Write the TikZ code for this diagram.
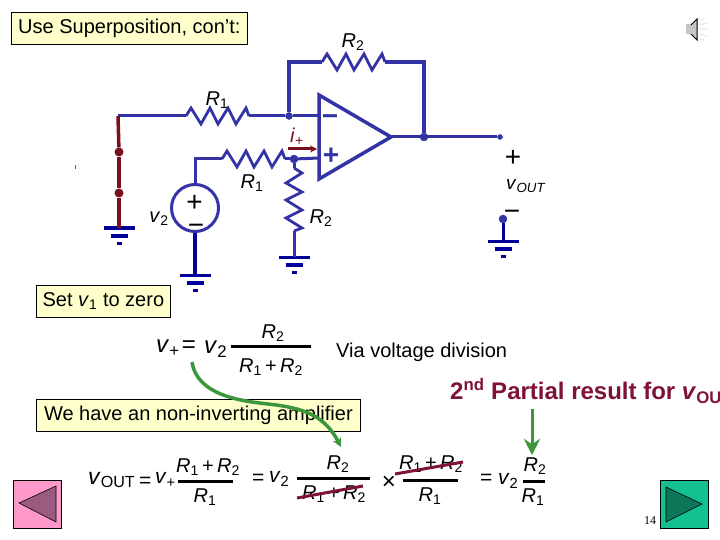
\documentclass[tikz,border=0pt]{standalone}
\usepackage{fontspec}
\setmainfont{Liberation Sans}
\newfontfamily\pagefont{Liberation Serif}
\usetikzlibrary{arrows.meta}
\definecolor{wirec}{HTML}{3333A5}
\definecolor{gndc}{HTML}{000099}
\definecolor{shortc}{HTML}{7A0F1E}
\definecolor{redt}{HTML}{7F1336}
\definecolor{boxc}{HTML}{FFFFCC}
\definecolor{arrowc}{HTML}{3C963C}
\definecolor{pinkb}{RGB}{255,153,204}
\definecolor{pinkt}{RGB}{153,92,128}
\definecolor{greenb}{RGB}{20,192,144}
\definecolor{greent}{RGB}{12,118,88}
\newcommand{\fs}[1]{\fontsize{#1}{#1}\selectfont}
\newcommand{\Rn}[1]{\textit{R}\textsubscript{#1}}
\newcommand{\vn}[1]{\textit{v}\textsubscript{#1}}
\newcommand{\Rsum}{\Rn{1}\,+\,\Rn{2}}
\tikzset{
  wire/.style={draw=wirec,line width=3pt,line join=miter},
  thickwire/.style={draw=wirec,line width=4.5pt},
  dot/.style={circle,fill=wirec,draw=wirec,inner sep=0pt,minimum size=#1},
  shortw/.style={draw=shortc,line width=3.5pt},
  sdot/.style={circle,fill=shortc,inner sep=0pt,minimum size=9pt},
  box/.style={draw=black,fill=boxc,line width=0.8pt,minimum height=32pt,inner sep=0pt,font=\fs{20},anchor=north west},
  lbl/.style={font=\fs{20},inner sep=0pt},
  mth/.style={font=\fs{21},inner sep=0pt},
  fbar/.style={draw=black,line width=3pt},
  strike/.style={draw=redt,line width=3pt},
  garrow/.style={draw=arrowc,line width=3pt,-{Stealth[length=16pt,width=16pt]}},
  resh/.pic={
    \coordinate (-in) at (0,0);
    \coordinate (-out) at (63,0);
    \draw[wire,line width=2.8pt] (0,0) -- (5,-8) -- (15,8) -- (24,-8) -- (32,8) -- (42,-8) -- (50,8) -- (60,-8) -- (63,0);
  },
  gnd/.pic={
    \coordinate (-top) at (0,0);
    \fill[gndc] (-15.5,-1.5) rectangle (15.5,2);
    \fill[gndc] (-8.5,6) rectangle (8.5,9.5);
    \fill[gndc] (-2.5,14) rectangle (2.5,17);
  },
}
\begin{document}
\begin{tikzpicture}[x=1pt,y=-1pt]
\useasboundingbox (0,0) rectangle (720,540);
\fill[white] (0,0) rectangle (720,540);

% boxes
\node[box,minimum width=236pt] (title) at (11,12) {\raisebox{-2pt}{Use Superposition, con’t:}};
\node[box,minimum width=134pt] (setv) at (36,285) {\raisebox{-2pt}{Set \textit{v}\textsubscript{1} to zero}};
\node[box,minimum width=324pt] (nonInv) at (36,399) {\raisebox{-2pt}{We have an non-inverting amplifier}};

% op amp
\coordinate (minus) at (319,116);
\coordinate (plus) at (319,158);
\coordinate (amp out) at (391,137);
\draw[wire,line width=3.5pt,line join=miter] (319,95) -- (amp out) -- (319,179) -- cycle;
\node[font=\bfseries\fs{28},text=wirec,inner sep=0pt] (mnode) at (330,120) {−};
\node[font=\bfseries\fs{28},text=wirec,inner sep=0pt] (pnode) at (331,156) {+};

% junctions
\node[dot=7pt] (jm) at (289,116) {};
\node[dot=8pt] (jp) at (294,159) {};
\node[dot=8pt] (jo) at (424,137) {};
\node[dot=5pt] (vo) at (500,137) {};
\node[dot=8pt] (vg) at (503,219) {};

% resistors
\pic (r1a) at (186,116) {resh};
\pic (r2a) at (322,62) {resh};
\pic (r1b) at (222,159) {resh};
\pic[rotate=-90] (r2b) at (294,168) {resh};

% source
\node[circle,draw=wirec,line width=3pt,minimum size=47pt,inner sep=0pt] (src) at (195,208) {};
\node[font=\fs{28},inner sep=0pt] (sp) at (194.5,203) {+};
\node[font=\fs{28},inner sep=0pt] (sm) at (196,229) {−};

% grounds
\pic (g1) at (119,228) {gnd};
\pic (g2) at (195,275) {gnd};
\pic (g3) at (294,257) {gnd};
\pic (g4) at (503,241) {gnd};

% short where v1 was
\coordinate (sw top) at (118,116);
\node[sdot] (s1) at (119,152) {};
\node[sdot] (s2) at (119,193) {};
\draw[wire] (sw top) -- (r1a-in);
\draw[wire] (r1a-out) -- (jm);
\draw[wire] (jm) -- (minus);
\draw[thickwire] (jm) |- (r2a-in);
\draw[wire,line width=3.5pt] (r2a-out) -| (jo);
\draw[wire] (amp out) -- (vo);
\draw[wire] (src.north) |- (r1b-in);
\draw[wire] (r1b-out) -- (jp);
\draw[wire] (jp) -- (plus);
\draw[wire] (jp) -- (r2b-in);
\draw[wire] (r2b-out) -- (g3-top);
\draw[draw=gndc,line width=4pt] (src.south) -- (g2-top);
\draw[draw=gndc,line width=3pt] (vg) -- (g4-top);
\draw[shortw] (sw top) -- (s1);
\draw[shortw] (s1) -- (s2);
\draw[shortw] (s2) -- (g1-top);

% i+ arrow
\coordinate (ia) at (288,149);
\coordinate (ib) at (317,149);
\draw[draw=shortc,line width=3pt,-{Stealth[length=7pt,width=7pt]}] (ia) -- (ib);
\node[font=\fs{20},text=shortc,inner sep=0pt] (il) at (297,137) {\textit{i}\textsubscript{+}};

% circuit labels
\node[lbl] (lr2a) at (353,42) {\Rn{2}};
\node[lbl] (lr1a) at (217,100) {\Rn{1}};
\node[lbl] (lr1b) at (252,183) {\Rn{1}};
\node[lbl] (lr2b) at (321,218) {\Rn{2}};
\node[lbl] (lv2) at (159,219) {\vn{2}};
\node[font=\fs{28},inner sep=0pt] (op) at (513,158) {+};
\node[font=\fs{19},inner sep=0pt,anchor=west] (vout) at (506,186) {\textit{v}\textsubscript{\textit{OUT}}};
\node[font=\fs{28},inner sep=0pt] (om) at (512,215) {−};

% first equation
\node[font=\fs{24},inner sep=0pt,anchor=west] (e1a) at (156,348) {\textit{v}\textsubscript{+}};
\node[font=\fs{24},inner sep=0pt] (e1b) at (189,347) {=};
\node[font=\fs{24},inner sep=0pt,anchor=west] (e1c) at (204,349) {\textit{v}\textsubscript{2}};
\draw[fbar] (231,346) -- (311,346);
\node[lbl] (e1n) at (273,333) {\Rn{2}};
\node[lbl] (e1d) at (271,367) {\Rsum};
\node[font=\fs{20},inner sep=0pt,anchor=west] (via) at (336,352) {Via voltage division};

% result title
\node[font=\bfseries\fs{24},text=redt,inner sep=0pt,anchor=west] (res) at (450,391) {2\textsuperscript{nd} Partial result for \textit{v}\textsubscript{OUT}};

% bottom equation
\node[font=\fs{23},inner sep=0pt,anchor=west] (b1) at (88,480) {\textit{v}\textsubscript{OUT}};
\node[mth,anchor=west] (b2) at (139,482) {=};
\node[mth,anchor=west] (b3) at (155,480) {\textit{v}\textsubscript{+}};
\draw[fbar] (178,481) -- (233,481);
\node[lbl] (b4) at (208,467) {\Rsum};
\node[lbl] (b5) at (205,497) {\Rn{1}};
\node[mth,anchor=west] (b6) at (252,479) {=};
\node[mth,anchor=west] (b7) at (269,479) {\textit{v}\textsubscript{2}};
\draw[fbar] (297,478) -- (370,478);
\node[lbl] (b8) at (338,464) {\Rn{2}};
\node[lbl] (b9) at (334,494) {\Rsum};
\draw[strike] (297,498) -- (363,486);
\node[font=\fs{24},inner sep=0pt] (b10) at (389,483) {×};
\draw[fbar] (403,480) -- (458,480);
\node[lbl] (b11) at (431,464) {\Rsum};
\node[lbl] (b12) at (430,496) {\Rn{1}};
\draw[strike] (395,474) -- (463,462);
\node[mth,anchor=west] (b13) at (480,479) {=};
\node[mth,anchor=west] (b14) at (498,481) {\textit{v}\textsubscript{2}};
\draw[fbar] (523,481) -- (545,481);
\node[lbl] (b15) at (535,466) {\Rn{2}};
\node[lbl] (b16) at (533,497) {\Rn{1}};

% green arrows
\coordinate (ca) at (192,362);
\coordinate (cb) at (341,447);
\draw[draw=arrowc,line width=3.5pt,-{Stealth[length=9pt,width=9pt]}] (ca) .. controls (197,395) and (240,401) .. (268,404) .. controls (305,408) and (325,416) .. (cb);
\coordinate (da) at (532,409);
\coordinate (db) at (532,455);
\draw[garrow] (da) -- (db);

% nav buttons
\node[draw=black,fill=pinkb,line width=0.8pt,minimum size=48pt,inner sep=0pt] (bl) at (37.5,504.5) {};
\draw[fill=pinkt,draw=black,line width=0.6pt] (19,503) -- (56,486) -- (56,522) -- cycle;
\node[draw=black,fill=greenb,line width=0.8pt,minimum size=48pt,inner sep=0pt] (br) at (684.5,504.5) {};
\draw[fill=greent,draw=black,line width=0.6pt] (666,487) -- (702,504) -- (666,522) -- cycle;
\node[font=\pagefont\fs{12},inner sep=0pt] (pg) at (650,521) {14};

% stray tick
\draw[black!60,line width=0.8pt] (75.5,165.5) -- (75.5,169);

% speaker
\fill[gray!45] (686,24) rectangle (691,34);
\fill[gray!45] (691,24) -- (697,19) -- (697,40) -- (691,34) -- cycle;
\draw[black,line width=1pt] (691,25) -- (697,19) -- (697,40) -- (691,34);
\draw[gray!50,line width=0.6pt,dash pattern=on 1.5pt off 1pt] (700,20) -- (704,19) (700,25) -- (707,23) (700,29) -- (708,29) (700,34) -- (707,36) (700,39) -- (704,40);
\end{tikzpicture}
\end{document}
